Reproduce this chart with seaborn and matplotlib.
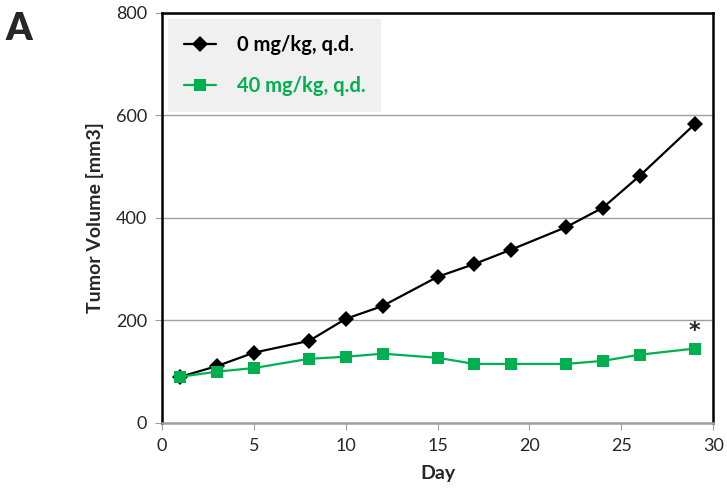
import numpy as np
import pandas as pd
import matplotlib
matplotlib.use("Agg")
import matplotlib.pyplot as plt
import seaborn as sns

# data
days = [1, 3, 5, 8, 10, 12, 15, 17, 19, 22, 24, 26, 29]
vol_0mg = [90, 111, 137, 160, 203, 228, 285, 310, 338, 382, 420, 482, 583]
vol_40mg = [90, 100, 107, 125, 129, 135, 127, 115, 115, 115, 121, 133, 145]
groups = ["0 mg/kg, q.d.", "40 mg/kg, q.d."]
colors = ["#000000", "#00B050"]

df = pd.concat([
    pd.DataFrame({"Day": days, "Volume": vol_0mg, "Group": groups[0]}),
    pd.DataFrame({"Day": days, "Volume": vol_40mg, "Group": groups[1]}),
])

sns.set_style("white")
plt.rcParams["font.family"] = ["Lato", "DejaVu Sans"]

fig = plt.figure(figsize=(7.27, 4.94), dpi=100)
ax = fig.add_axes([0.223, 0.144, 0.758, 0.83])

ax.grid(axis="y", color="#a0a0a0", lw=1)
ax.set_axisbelow(True)

sns.lineplot(data=df, x="Day", y="Volume", hue="Group", style="Group",
             palette=colors, markers=["D", "s"], dashes=False,
             markersize=8.5, markeredgewidth=0, lw=1.6, ax=ax)

ax.set_xlim(0, 30)
ax.set_ylim(0, 800)
ax.set_xticks(range(0, 31, 5))
ax.set_yticks(range(0, 801, 200))
ax.tick_params(labelsize=13, length=5, color="#a0a0a0", direction="out",
               bottom=True, left=True, pad=6)
ax.set_xlabel("Day", fontsize=14, fontweight="bold", labelpad=8)
ax.set_ylabel("Tumor Volume [mm3]", fontsize=14, fontweight="bold", labelpad=8)

for side in ["left", "top", "right"]:
    ax.spines[side].set_color("black")
    ax.spines[side].set_linewidth(1.8)
ax.spines["bottom"].set_color("#a0a0a0")
ax.spines["bottom"].set_linewidth(1.8)

leg = ax.legend(loc="upper left", frameon=True, fontsize=14.5, handlelength=1.6,
                handletextpad=1.0, borderpad=0.8, labelspacing=1.05,
                bbox_to_anchor=(0.0, 1.0), borderaxespad=0.3,
                fancybox=False, title=None)
leg.get_frame().set_facecolor("#f0f0f0")
leg.get_frame().set_edgecolor("none")
leg.get_frame().set_alpha(1)
for txt, c in zip(leg.get_texts(), colors):
    txt.set_color(c)
    txt.set_fontweight("bold")

ax.text(days[-1], vol_40mg[-1] + 14, "*", ha="center", va="bottom",
        fontsize=16, fontweight="bold", family="DejaVu Sans")
fig.text(0.008, 0.975, "A", fontsize=27, fontweight="heavy", va="top")

fig.savefig("out.png", dpi=100)
